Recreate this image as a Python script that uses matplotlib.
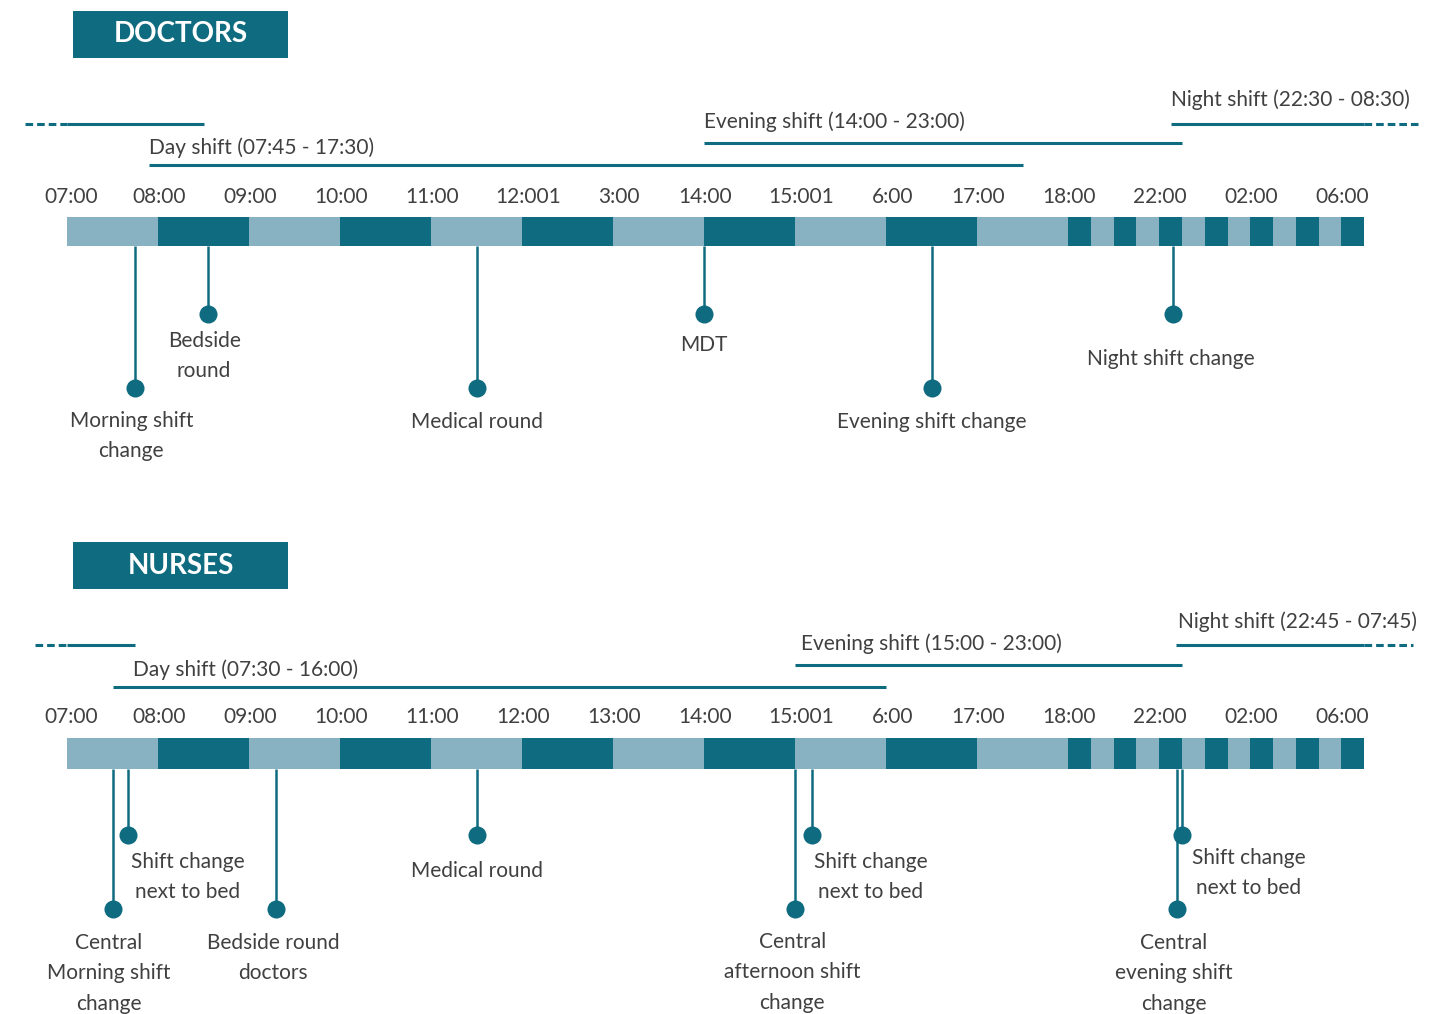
import numpy as np
import matplotlib
matplotlib.use("Agg")
import matplotlib.pyplot as plt
from matplotlib import font_manager
from matplotlib.patches import Rectangle

# pick a narrow font if there is one
names = {f.name for f in font_manager.fontManager.ttflist}
FONT = "Liberation Sans Narrow" if "Liberation Sans Narrow" in names else "Lato"
plt.rcParams["font.family"] = [FONT, "DejaVu Sans"]
FS = 17 if FONT == "Liberation Sans Narrow" else 15

DARK = "#0F6C80"
LIGHT = "#88B1C2"
TEXT = "#404040"

# ---- data (hours; next-day hours go past 24) ----
hour_blocks = list(range(7, 31))

doc_tick_hours = [7, 8, 9, 10, 11, 12, 13, 14, 15, 16, 17, 18, 22, 26, 30]
doc_tick_labels = ["07:00", "08:00", "09:00", "10:00", "11:00", "12:001", "3:00",
                   "14:00", "15:001", "6:00", "17:00", "18:00", "22:00", "02:00", "06:00"]
nurse_tick_hours = doc_tick_hours
nurse_tick_labels = ["07:00", "08:00", "09:00", "10:00", "11:00", "12:00", "13:00",
                     "14:00", "15:001", "6:00", "17:00", "18:00", "22:00", "02:00", "06:00"]

doc_shift_labels = ["Night shift (22:30 - 08:30)", "Evening shift (14:00 - 23:00)",
                    "Day shift (07:45 - 17:30)"]
doc_shift_start = [22.5, 14.0, 7.9]
doc_shift_end = [32.5, 23.0, 17.5]

nurse_shift_labels = ["Night shift (22:45 - 07:45)", "Evening shift (15:00 - 23:00)",
                      "Day shift (07:30 - 16:00)"]
nurse_shift_start = [22.75, 15.0, 7.5]
nurse_shift_end = [31.75, 23.0, 16.0]

doc_event_labels = ["Morning shift\nchange", "Bedside\nround", "Medical round", "MDT",
                    "Evening shift change", "Night shift change"]
doc_event_times = [7.75, 8.55, 11.5, 14.0, 16.5, 22.6]

nurse_event_labels = ["Central\nMorning shift\nchange", "Shift change\nnext to bed",
                      "Bedside round\ndoctors", "Medical round",
                      "Central\nafternoon shift\nchange", "Shift change\nnext to bed",
                      "Central\nevening shift\nchange", "Shift change\nnext to bed"]
nurse_event_times = [7.5, 7.67, 9.3, 11.5, 15.0, 15.18, 22.78, 23.0]

# ---- layout (pixels from top) ----
doc_layout = dict(title="DOCTORS", box=(11, 58), shift_line=[124, 143, 165],
                  shift_text=[100, 122, 148], shift_dx=[0, 0, 0], tick_y=195,
                  bar=(217, 246), short=314, long=388, dash=(6.54, 33.36))
nurse_layout = dict(title="NURSES", box=(542, 589), shift_line=[645, 665, 687],
                    shift_text=[622, 644, 670], shift_dx=[2, 6, 20], tick_y=715,
                    bar=(738, 769), short=835, long=909, dash=(6.65, 33.15))
doc_event_level = ["long", "short", "long", "short", "long", "short"]
doc_event_gap = [31, 25, 32, 29, 32, 43]
doc_event_dx = [-4, -4, 0, 0, 0, -2]
nurse_event_level = ["long", "short", "long", "short", "long", "short", "long", "short"]
nurse_event_gap = [32, 25, 32, 34, 31, 25, 32, 21]
nurse_event_dx = [-4, 60, -3, 0, -3, 59, -3, 67]


def fwd(h):
    h = np.asarray(h, dtype=float)
    return np.where(h <= 18, h - 7, 11 + (h - 18) / 4)


def inv(u):
    u = np.asarray(u, dtype=float)
    return np.where(u <= 11, u + 7, 18 + (u - 11) * 4)


W, H = 1433, 1014
fig = plt.figure(figsize=(W / 100, H / 100), dpi=100)
ax = fig.add_axes([0, 0, 1, 1])
ax.set_xscale("function", functions=(fwd, inv))
ax.set_xlim(6.264, 34.03)
ax.set_ylim(H, 0)
ax.axis("off")


def draw_panel(lay, ticks, tick_labels, s_labels, s_start, s_end,
               e_labels, e_times, e_level, e_gap, e_dx):
    # header box
    y0, y1 = lay["box"]
    fig.add_artist(Rectangle((73 / W, 1 - y1 / H), 215 / W, (y1 - y0) / H,
                             transform=fig.transFigure, color=DARK, lw=0))
    fig.text(180.5 / W, 1 - (y0 + y1) / 2 / H, lay["title"], color="white",
             fontsize=20, fontweight="bold", ha="center", va="center")

    # shift lines
    for i, (lab, a, b) in enumerate(zip(s_labels, s_start, s_end)):
        y = lay["shift_line"][i]
        if b > 31:
            # wraps round midnight: right part + left continuation
            ax.hlines(y, a, 31, color=DARK, lw=2.2)
            ax.hlines(y, 31, lay["dash"][1], color=DARK, lw=2.2, linestyles=(0, (2.5, 1.3)))
            ax.hlines(y, 7, b - 24, color=DARK, lw=2.2)
            ax.hlines(y, lay["dash"][0], 7, color=DARK, lw=2.2, linestyles=(0, (2.5, 1.3)))
        else:
            ax.hlines(y, a, b, color=DARK, lw=2.2)
        ax.annotate(lab, (a, y), xytext=(lay["shift_dx"][i], y - lay["shift_text"][i]),
                    textcoords="offset pixels", ha="left", va="center",
                    fontsize=FS, color=TEXT)

    # hour blocks
    b0, b1 = lay["bar"]
    for h in hour_blocks:
        c = DARK if (h - 7) % 2 else LIGHT
        ax.barh((b0 + b1) / 2, 1, left=h, height=b1 - b0, color=c, lw=0)

    # tick labels (the squashed ones sit a little to the right)
    for h, lab in zip(ticks, tick_labels):
        dx = 4 if h == 7 else (6 if len(lab) != 5 else 1)
        ax.annotate(lab, (h, lay["tick_y"]), xytext=(dx, -2),
                    textcoords="offset pixels", ha="center", va="center",
                    fontsize=FS, color=TEXT)

    # events
    for lab, t, lev, gap, dx in zip(e_labels, e_times, e_level, e_gap, e_dx):
        dy = lay[lev]
        ax.vlines(t, b1, dy, color=DARK, lw=1.8)
        ax.plot([t], [dy], "o", ms=13, color=DARK, mec="none")
        ax.annotate(lab, (t, dy), xytext=(dx, -(gap - 8)), textcoords="offset pixels",
                    ha="center", va="top", fontsize=FS, color=TEXT,
                    multialignment="center", linespacing=1.65)


draw_panel(doc_layout, doc_tick_hours, doc_tick_labels, doc_shift_labels,
           doc_shift_start, doc_shift_end, doc_event_labels, doc_event_times,
           doc_event_level, doc_event_gap, doc_event_dx)
draw_panel(nurse_layout, nurse_tick_hours, nurse_tick_labels, nurse_shift_labels,
           nurse_shift_start, nurse_shift_end, nurse_event_labels, nurse_event_times,
           nurse_event_level, nurse_event_gap, nurse_event_dx)

fig.savefig("out.png", dpi=100)
